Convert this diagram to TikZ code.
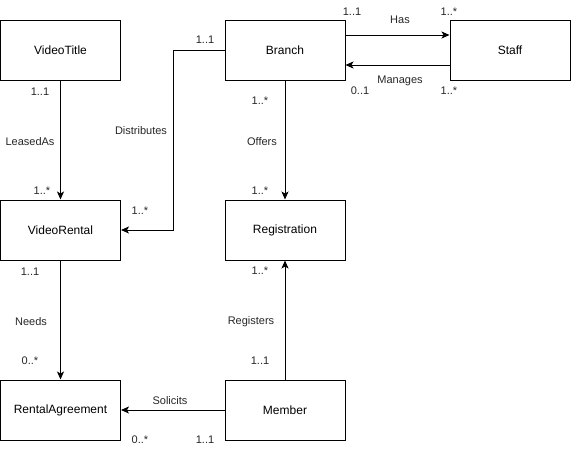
\documentclass[tikz,border=0pt]{standalone}
\usepackage{fontspec}
\setmainfont{Liberation Sans}
\usetikzlibrary{arrows.meta}
\begin{document}
\begin{tikzpicture}[x=1pt,y=-1pt,
  entity/.style={draw=black,line width=1pt,minimum width=120pt,minimum height=60pt,inner sep=0pt,font=\fontsize{12}{14}\selectfont},
  rel/.style={draw=black,line width=1pt,-{Stealth[length=8pt,width=7pt,inset=2pt]}},
  lbl/.style={inner sep=0pt,font=\fontsize{11}{13}\selectfont,text=black!85}]
\useasboundingbox (0,0) rectangle (571,451);
\node[entity] (vt) at (60.5,50) {VideoTitle};
\node[entity] (br) at (285,50) {Branch};
\node[entity] (st) at (510,50) {Staff};
\node[entity] (vr) at (60.5,230) {VideoRental};
\node[entity] (rg) at (285,230) {Registration};
\node[entity] (ra) at (60.5,410) {RentalAgreement};
\node[entity] (mb) at (285,410) {Member};
\coordinate (d1) at (173,50);
\coordinate (d2) at (173,230);
% edges
\draw[rel] (vt.south) -- (vr.north);
\draw[rel] (br.west) -- (d1) -- (d2) -- (vr.east);
\draw[rel] (br.south) -- (rg.north);
\draw[rel] (br.east |- 0,35) -- (st.west |- 0,35);
\draw[rel] (st.west |- 0,65) -- (br.east |- 0,65);
\draw[rel] (vr.south) -- (ra.north);
\draw[rel] (mb.north) -- (rg.south);
\draw[rel] (mb.west) -- (ra.east);
% labels
\node[lbl] (l1) at (40,92) {1..1};
\node[lbl] (l2) at (30,142) {LeasedAs};
\node[lbl] (l3) at (42,191) {1..*};
\node[lbl] (l4) at (205,40) {1..1};
\node[lbl] (l5) at (141,131) {Distributes};
\node[lbl] (l6) at (140,211) {1..*};
\node[lbl] (l7) at (260,101) {1..*};
\node[lbl] (l8) at (262,142) {Offers};
\node[lbl] (l9) at (260,191) {1..*};
\node[lbl] (l10) at (352,12) {1..1};
\node[lbl] (l11) at (400,20) {Has};
\node[lbl] (l12) at (449,12) {1..*};
\node[lbl] (l13) at (400,81) {Manages};
\node[lbl] (l14) at (360,91) {0..1};
\node[lbl] (l15) at (449,91) {1..*};
\node[lbl] (l16) at (30,272) {1..1};
\node[lbl] (l17) at (31,322) {Needs};
\node[lbl] (l18) at (30,361) {0..*};
\node[lbl] (l19) at (260,271) {1..*};
\node[lbl] (l20) at (251,322) {Registers};
\node[lbl] (l21) at (260,361) {1..1};
\node[lbl] (l22) at (170,401) {Solicits};
\node[lbl] (l23) at (140,440) {0..*};
\node[lbl] (l24) at (205,440) {1..1};
\end{tikzpicture}
\end{document}
